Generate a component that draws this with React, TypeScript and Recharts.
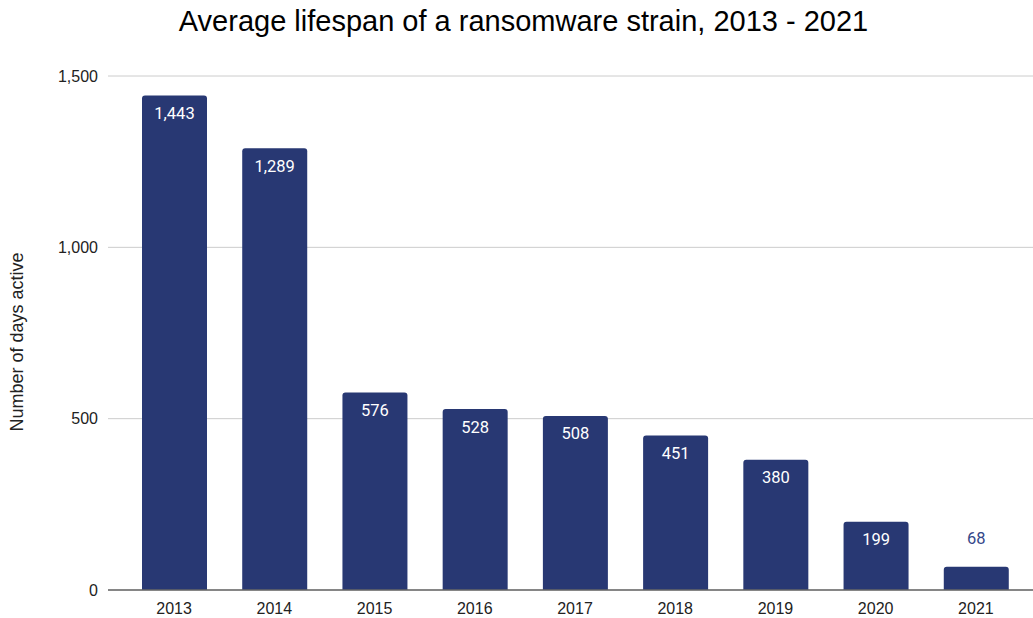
import { BarChart, Bar, XAxis, YAxis, CartesianGrid, LabelList } from "recharts";

const years = ["2013", "2014", "2015", "2016", "2017", "2018", "2019", "2020", "2021"];
const daysActive = [1443, 1289, 576, 528, 508, 451, 380, 199, 68];
const yTicks = [0, 500, 1000, 1500];

const BAR_COLOR = "#283873";
const AXIS_FONT = "'Liberation Sans', Arial, sans-serif";

const data = years.map((year, i) => ({ year, days: daysActive[i] }));

// value label: white inside the bar top, or above the bar when it is too short
function BarValue(props: any) {
  const { x, y, width, height, value } = props;
  const inside = height > 40;
  return (
    <text
      x={x + width / 2}
      y={inside ? y + 18 : y - 28}
      textAnchor="middle"
      dominantBaseline="central"
      fill={inside ? "#ffffff" : "#34478a"}
      fontFamily="Roboto, sans-serif"
      fontSize={16.5}
    >
      {Number(value).toLocaleString("en-US")}
    </text>
  );
}

export default function App() {
  return (
    <div
      style={{
        position: "absolute",
        left: 0,
        top: 0,
        width: 1033,
        height: 618,
        background: "#fff",
        fontFamily: AXIS_FONT,
      }}
    >
      <div
        style={{
          position: "absolute",
          top: 5,
          left: 0,
          width: 1047,
          textAlign: "center",
          fontSize: 29,
          color: "#000",
        }}
      >
        Average lifespan of a ransomware strain, 2013 - 2021
      </div>
      <BarChart
        width={1033}
        height={618}
        data={data}
        margin={{ top: 76, right: 0, bottom: 0, left: 48 }}
      >
        <CartesianGrid vertical={false} stroke="#cccccc" />
        <XAxis
          dataKey="year"
          padding={{ left: 16, right: 7 }}
          height={28}
          tickLine={false}
          tickSize={0}
          tickMargin={13}
          axisLine={{ stroke: "#666666", strokeWidth: 1.5 }}
          tick={{ fill: "#222", fontSize: 16, fontFamily: AXIS_FONT }}
        />
        <YAxis
          width={60}
          domain={[0, 1500]}
          ticks={yTicks}
          tickFormatter={(v: number) => v.toLocaleString("en-US")}
          axisLine={false}
          tickLine={false}
          tickSize={0}
          tickMargin={10}
          tick={{ fill: "#222", fontSize: 16, fontFamily: AXIS_FONT }}
          label={{
            value: "Number of days active",
            angle: -90,
            position: "insideLeft",
            offset: -31,
            dy: 9,
            style: { textAnchor: "middle", fill: "#222", fontSize: 18 },
          }}
        />
        <Bar
          dataKey="days"
          fill={BAR_COLOR}
          barSize={65}
          radius={[3, 3, 0, 0]}
          isAnimationActive={false}
        >
          <LabelList dataKey="days" content={BarValue} />
        </Bar>
      </BarChart>
    </div>
  );
}
